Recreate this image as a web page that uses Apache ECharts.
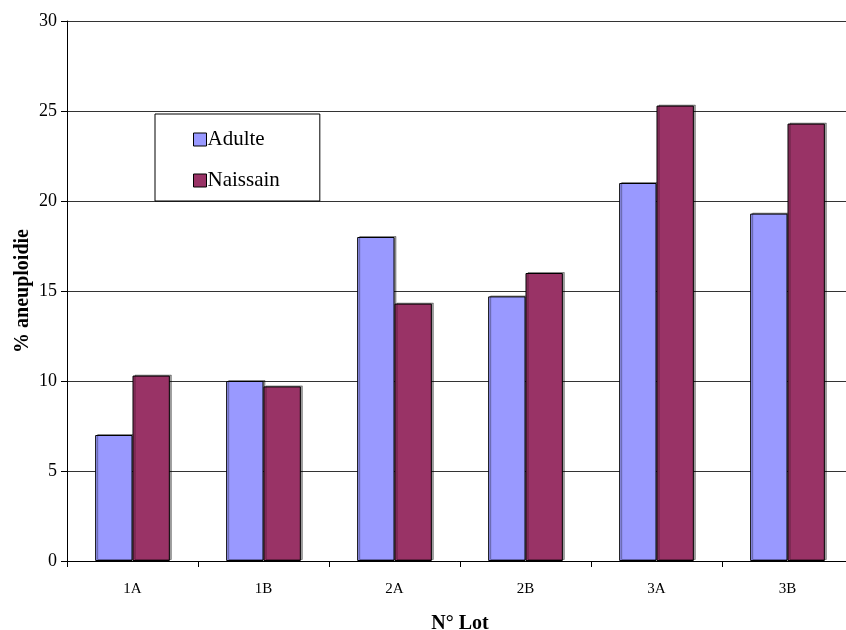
<!DOCTYPE html>
<html><head><meta charset="utf-8">
<script src="https://cdn.jsdelivr.net/npm/echarts@6/dist/echarts.min.js"></script>
<style>html,body{margin:0;padding:0;background:#fff}#c{width:846px;height:630px}</style>
</head><body><div id="c"></div>
<script>
const categories = ['1A','1B','2A','2B','3A','3B'];
const adulte = [7.0, 10.0, 18.0, 14.7, 21.0, 19.3];
const naissain = [10.3, 9.7, 14.3, 16.0, 25.3, 24.3];
const chart = echarts.init(document.getElementById('c'));
const font = '"Liberation Serif", "Times New Roman", serif';
chart.setOption({
  animation: false,
  backgroundColor: '#fff',
  grid: {left: 67, top: 21, width: 786, height: 540, containLabel: false, outerBoundsMode: 'none'},
  legend: {
    left: 155, top: 114,
    orient: 'vertical', itemGap: 20, padding: [15, 40, 10, 38],
    itemWidth: 13, itemHeight: 13,
    borderColor: '#000', borderWidth: 1, backgroundColor: '#fff',
    textStyle: {fontFamily: font, fontSize: 21, color: '#000', padding: [0,0,0,-4]},
    icon: 'rect',
    data: [
      {name: 'Adulte', itemStyle: {borderColor: '#000', borderWidth: 1}},
      {name: 'Naissain', itemStyle: {borderColor: '#000', borderWidth: 1}}
    ]
  },
  xAxis: {
    type: 'category', data: categories,
    name: 'N° Lot', nameLocation: 'middle', nameGap: 53,
    nameTextStyle: {fontFamily: font, fontSize: 20, fontWeight: 'bold', color: '#000'},
    axisLine: {lineStyle: {color: '#000', width: 1}},
    axisTick: {show: true, alignWithLabel: false, length: 6, lineStyle: {color: '#000'}},
    axisLabel: {fontFamily: font, fontSize: 15, color: '#000', margin: 21}
  },
  yAxis: {
    type: 'value', min: 0, max: 30, interval: 5,
    name: '% aneuploidie', nameLocation: 'middle', nameGap: 34, nameMoveOverlap: false,
    nameTextStyle: {fontFamily: font, fontSize: 20, fontWeight: 'bold', color: '#000'},
    axisLine: {show: true, lineStyle: {color: '#000', width: 1}},
    axisTick: {show: true, length: 6, lineStyle: {color: '#000'}},
    axisLabel: {fontFamily: font, fontSize: 18, color: '#000', margin: 10},
    splitLine: {show: true, lineStyle: {color: '#333', width: 1}}
  },
  series: [
    {name: 'Adulte', type: 'bar', data: adulte, barGap: '0%', barCategoryGap: '43%',
     itemStyle: {color: '#9999FF', borderColor: '#000', borderWidth: 1,
       shadowColor: 'rgba(0,0,0,0.35)', shadowOffsetX: 2, shadowOffsetY: -1, shadowBlur: 0}},
    {name: 'Naissain', type: 'bar', data: naissain, barGap: '0%', barCategoryGap: '43%',
     itemStyle: {color: '#993366', borderColor: '#000', borderWidth: 1,
       shadowColor: 'rgba(0,0,0,0.35)', shadowOffsetX: 2, shadowOffsetY: -1, shadowBlur: 0}}
  ]
});
</script></body></html>
